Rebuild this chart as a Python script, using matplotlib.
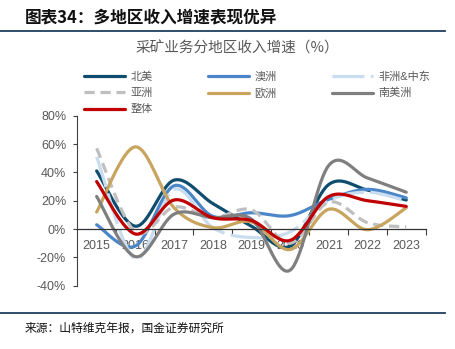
import numpy as np
import matplotlib
matplotlib.use('Agg')
import matplotlib.pyplot as plt
from matplotlib.lines import Line2D

plt.rcParams['font.family'] = ['Liberation Sans', 'Noto Sans CJK SC', 'DejaVu Sans']

years = ['2015', '2016', '2017', '2018', '2019', '2020', '2021', '2022', '2023']
north_america = [41, 2, 34.5, 18, 2, -12, 31.5, 27.5, 20.5]
australia = [3, -12, 30.5, 9, 11.5, 9.5, 21, 28, 22]
africa_me = [51, -21, 28, 1, -6, -2, 20, 26, 20]
asia = [57, -2, 15.5, 8, 13.5, -10, 19, 4.5, 1.5]
europe = [12, 58, 15, 1, 5, -14.5, 14, -0.5, 15]
south_america = [23, -19.5, 10.5, 8, 7, -29, 45, 36, 26]
overall = [33.5, -3.5, 20.5, 8, 6, -8, 23, 20, 16]

series_names = ['北美', '澳洲', '非洲&中东', '亚洲', '欧洲', '南美洲', '整体']
series_values = [north_america, australia, africa_me, asia, europe, south_america, overall]

title = '图表34：多地区收入增速表现优异'
chart_title = '采矿业务分地区收入增速（%）'
source = '来源：山特维克年报，国金证券研究所'

colors = ['#0E4D6E', '#4A86C8', '#C9DDF0', '#BFBFBF', '#C8A45E', '#7F7F7F', '#C00000']
styles = ['-', '-', (0, (10, 2)), (0, (3.2, 1.8)), '-', '-', '-']
LW = 2.3
GRAY = '#595959'


def smooth(xs, ys, n=40):
    P = np.column_stack([xs, ys]).astype(float)
    ext = np.vstack([P[0], P, P[-1]])
    t = np.linspace(0, 1, n)
    out = []
    for i in range(len(P) - 1):
        p0, p3 = P[i], P[i + 1]
        c1 = p0 + (ext[i + 2] - ext[i]) / 6
        c2 = p3 - (ext[i + 3] - ext[i + 1]) / 6
        seg = (((1 - t) ** 3)[:, None] * p0 + (3 * (1 - t) ** 2 * t)[:, None] * c1
               + (3 * (1 - t) * t ** 2)[:, None] * c2 + (t ** 3)[:, None] * p3)
        out.append(seg if i == 0 else seg[1:])
    return np.vstack(out)


W, H = 455, 349
fig = plt.figure(figsize=(W / 100, H / 100), dpi=100)
ax = fig.add_axes([77.3 / W, 1 - 285.7 / H, (425.6 - 77.3) / W, (285.7 - 115.7) / H])

x = np.arange(len(years))
handles = []
for name, vals, c, ls in zip(series_names, series_values, colors, styles):
    curve = smooth(x, vals)
    ln, = ax.plot(curve[:, 0], curve[:, 1], color=c, lw=LW, ls=ls,
                  solid_capstyle='round', label=name)
    handles.append(ln)

ax.set_xlim(-0.5, 8.5)
ax.set_ylim(-40, 80)
ax.set_yticks([-40, -20, 0, 20, 40, 60, 80])
ax.set_yticklabels([f'{v}%' for v in [-40, -20, 0, 20, 40, 60, 80]])
ax.set_xticks(x)
ax.set_xticklabels(years)
ax.set_xticks(np.arange(0.5, 9, 1), minor=True)
ax.tick_params(axis='x', which='major', length=0, pad=8, labelsize=9, labelcolor=GRAY)
ax.tick_params(axis='x', which='minor', length=4, direction='out', color='#404040', width=0.8)
ax.tick_params(axis='y', length=3, direction='out', pad=5, labelsize=9, labelcolor=GRAY,
               color='#404040', width=0.8)
for s in ['top', 'right']:
    ax.spines[s].set_visible(False)
ax.spines['bottom'].set_position(('data', 0))
ax.spines['bottom'].set_color('#333333')
ax.spines['left'].set_color('#404040')
ax.spines['bottom'].set_linewidth(0.9)
ax.spines['left'].set_linewidth(0.8)
ax.patch.set_visible(False)

# legends (three columns)
cols = [[0, 3, 6], [1, 4], [2, 5]]
xs_leg = [84, 207.7, 331.7]
for ci, (idx, xl) in enumerate(zip(cols, xs_leg)):
    leg = fig.legend([handles[i] for i in idx], [series_names[i] for i in idx],
                     loc='upper left', bbox_to_anchor=(xl / W, 1 - 71.5 / H),
                     bbox_transform=fig.transFigure, frameon=False, fontsize=8,
                     handlelength=3.7, handletextpad=0.5, labelspacing=0.55,
                     borderpad=0, borderaxespad=0, labelcolor=GRAY)

fig.text(25 / W, 1 - 17 / H, title, fontsize=12, fontweight='bold', color='#111111',
         ha='left', va='center', family=['Noto Sans CJK SC', 'DejaVu Sans'])
fig.text(237.5 / W, 1 - 48 / H, chart_title, fontsize=10.5, color=GRAY,
         ha='center', va='center', family=['Noto Sans CJK SC', 'DejaVu Sans'])
fig.text(25 / W, 1 - 328 / H, source, fontsize=8.5, color='#111111',
         ha='left', va='center', family=['Noto Sans CJK SC', 'DejaVu Sans'])

for yy in [31.3, 313.3]:
    fig.add_artist(Line2D([0, 445 / W], [1 - yy / H] * 2, transform=fig.transFigure,
                          color='#1F3F5F', lw=1.3))

fig.savefig('out.png', dpi=100)
